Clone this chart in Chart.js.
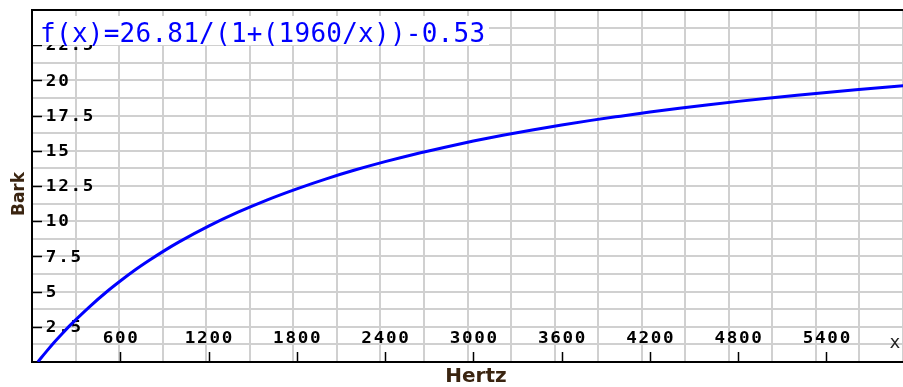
<!DOCTYPE html>
<html>
<head>
<meta charset="utf-8">
<title>Bark scale</title>
<script src="https://cdn.jsdelivr.net/npm/chart.js@4.4.1/dist/chart.umd.min.js"></script>
<style>
  html, body { margin: 0; padding: 0; background: #fff; }
  #wrap { width: 903px; height: 387px; }
</style>
</head>
<body>
<div id="wrap"><canvas id="barkChart" width="903" height="387"></canvas></div>
<script>
// Frequency (Hz) and the matching critical band rate (Bark)
const hertz = [40, 100, 150, 200, 250, 300, 400, 500, 600, 700, 800, 900, 1000, 1200, 1400, 1600, 1800,
  2000, 2200, 2400, 2600, 2800, 3000, 3200, 3400, 3600, 3800, 4000, 4200, 4400, 4600, 4800,
  5000, 5200, 5400, 5600, 5800, 6000];
const bark = [0.01, 0.77, 1.38, 1.95, 2.51, 3.03, 4.01, 4.92, 5.75, 6.53, 7.24, 7.91, 8.53, 9.65, 10.64, 11.52, 12.30,
  13.01, 13.65, 14.23, 14.76, 15.24, 15.69, 16.10, 16.48, 16.83, 17.16, 17.46, 17.75, 18.02, 18.27, 18.51,
  18.73, 18.94, 19.14, 19.33, 19.51, 19.68];

// Labelled ticks
const xTickValues = [600, 1200, 1800, 2400, 3000, 3600, 4200, 4800, 5400];
const xTickLabels = ['600', '1200', '1800', '2400', '3000', '3600', '4200', '4800', '5400'];
const yTickValues = [2.5, 5, 7.5, 10, 12.5, 15, 17.5, 20, 22.5];
const yTickLabels = ['2.5', '5', '7.5', '10', '12.5', '15', '17.5', '20', '22.5'];

const formulaText = 'f(x)=26.81/(1+(1960/x))-0.53';

document.addEventListener('DOMContentLoaded', () => {
    const tickFont = 'bold 16px "DejaVu Sans Mono"';
    const inkColor = '#3a2410';

    // fixed-pitch text, each glyph centred in its own cell and stretched by sx
    function drawMono(ctx, text, left, cy, pitch, sx = 1) {
        for (let i = 0; i < text.length; i++) {
            ctx.save();
            ctx.translate(left + pitch * i + pitch / 2, cy);
            ctx.scale(sx, 1);
            ctx.fillText(text[i], 0, 0);
            ctx.restore();
        }
    }

    // ticks and labels sit inside the plot, under the curve
    const axisDecor = {
        id: 'axisDecor',
        beforeDatasetsDraw(chart) {
            const { ctx, chartArea: a, scales: { x, y } } = chart;
            ctx.save();

            ctx.strokeStyle = '#000';
            ctx.lineWidth = 2;
            ctx.beginPath();
            ctx.moveTo(a.left - 1, a.top);
            ctx.lineTo(a.right, a.top);
            ctx.stroke();

            ctx.lineWidth = 1.5;
            ctx.beginPath();
            xTickValues.forEach(v => {
                const px = Math.round(x.getPixelForValue(v)) + 0.5;
                ctx.moveTo(px, a.bottom);
                ctx.lineTo(px, a.bottom - 10);
            });
            yTickValues.forEach(v => {
                const py = Math.round(y.getPixelForValue(v)) + 0.5;
                ctx.moveTo(a.left, py);
                ctx.lineTo(a.left + 10, py);
            });
            ctx.stroke();

            ctx.fillStyle = '#000';
            ctx.font = tickFont;
            ctx.textAlign = 'center';
            ctx.textBaseline = 'middle';
            const pitch = 12.3;
            xTickLabels.forEach((t, i) => {
                const cx = x.getPixelForValue(xTickValues[i]);
                drawMono(ctx, t, cx - t.length * pitch / 2, a.bottom - 23, pitch, 1.1);
            });
            yTickLabels.forEach((t, i) => {
                drawMono(ctx, t, a.left + 13, y.getPixelForValue(yTickValues[i]) + 1, pitch, 1.1);
            });

            ctx.font = '18px "DejaVu Sans Mono"';
            ctx.fillStyle = '#222';
            ctx.fillText('x', a.right - 8, a.bottom - 19);
            ctx.restore();
        },
        afterDraw(chart) {
            const { ctx, chartArea: a } = chart;
            ctx.save();

            // formula box over the top of the grid
            ctx.fillStyle = '#fff';
            ctx.fillRect(a.left + 1, 16, 456, 29);
            ctx.fillStyle = '#0000ff';
            ctx.font = '26px "DejaVu Sans Mono"';
            ctx.textAlign = 'center';
            ctx.textBaseline = 'alphabetic';
            drawMono(ctx, formulaText, 40, 42, 15.9);

            // axis titles
            ctx.fillStyle = inkColor;
            ctx.textBaseline = 'middle';
            ctx.font = 'bold 20px "DejaVu Sans"';
            ctx.fillText('Hertz', 476, 377);
            ctx.translate(19.5, 194);
            ctx.rotate(-Math.PI / 2);
            ctx.font = 'bold 17px "DejaVu Sans"';
            ctx.fillText('Bark', 0, 0);
            ctx.restore();
        }
    };

    const gridColor = '#d0d0d0';

    new Chart(document.getElementById('barkChart'), {
        type: 'line',
        data: {
            datasets: [{
                data: hertz.map((h, i) => ({ x: h, y: bark[i] })),
                borderColor: '#0000ff',
                borderWidth: 3,
                pointRadius: 0,
                cubicInterpolationMode: 'monotone',
                fill: false
            }]
        },
        options: {
            responsive: false,
            animation: false,
            layout: { padding: { top: 10, right: 0, left: 0, bottom: 0 } },
            plugins: {
                legend: { display: false },
                tooltip: { enabled: false }
            },
            scales: {
                x: {
                    type: 'linear',
                    min: 0,
                    max: 5920,
                    ticks: { stepSize: 300, display: false, includeBounds: false },
                    grid: { color: gridColor, lineWidth: 2, drawTicks: false },
                    border: { display: true, color: '#000', width: 2 },
                    afterFit: scale => { scale.height = 25; }
                },
                y: {
                    min: 0,
                    max: 25,
                    ticks: { stepSize: 1.25, display: false },
                    grid: { color: gridColor, lineWidth: 2, drawTicks: false },
                    border: { display: true, color: '#000', width: 2 },
                    afterFit: scale => { scale.width = 32; }
                }
            }
        },
        plugins: [axisDecor]
    });
});
</script>
</body>
</html>
